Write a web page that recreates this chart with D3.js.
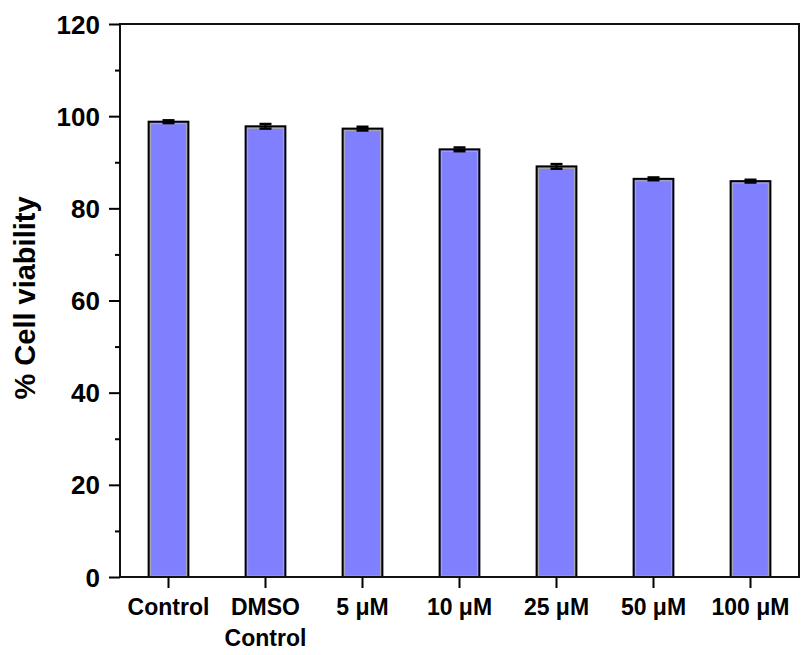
<!DOCTYPE html>
<head>
  <meta charset="utf-8">
  <script src="https://cdnjs.cloudflare.com/ajax/libs/d3/7.8.5/d3.min.js"></script>
  <style>
    body { margin:0; background:#fff; }
    text { font-family: "Liberation Sans", Arial, sans-serif; font-weight: bold; fill:#000; }
  </style>
</head>
<body>
  <div id="vis"></div>
  <script>
    // treatments and viability (%)
    var groups = ["Control", "DMSO Control", "5 \u03bcM", "10 \u03bcM", "25 \u03bcM", "50 \u03bcM", "100 \u03bcM"];
    var viability = [98.8, 97.8, 97.3, 92.8, 89.1, 86.4, 85.9];
    var errors = [0.3, 0.5, 0.4, 0.4, 0.5, 0.3, 0.3];
    var yTicks = [0, 20, 40, 60, 80, 100, 120];

    var width = 802, height = 655;
    var plotL = 120, plotR = 799, plotT = 24, plotB = 577;

    var svg = d3.select("#vis").append("svg")
      .attr("width", width)
      .attr("height", height);

    var x = d3.scaleBand()
      .domain(groups)
      .range([plotL, plotR])
      .paddingInner(0.59)
      .paddingOuter(0.295);

    var y = d3.scaleLinear()
      .domain([0, 120])
      .range([plotB, plotT]);

    // bars
    var bars = svg.append("g");
    groups.forEach(function(g, i) {
      bars.append("rect")
        .attr("x", x(g))
        .attr("y", y(viability[i]))
        .attr("width", x.bandwidth())
        .attr("height", y(0) - y(viability[i]))
        .style("fill", "#8080ff")
        .style("stroke", "#000")
        .style("stroke-width", 2);
      bars.append("rect")
        .attr("x", x(g) + 2)
        .attr("y", y(viability[i]) + 2)
        .attr("width", x.bandwidth() - 4)
        .attr("height", y(0) - y(viability[i]) - 3)
        .style("fill", "none")
        .style("stroke", "#aaa")
        .style("stroke-width", 1);
    });

    // error bars
    var eb = svg.append("g").style("stroke", "#000");
    groups.forEach(function(g, i) {
      var cx = x(g) + x.bandwidth() / 2;
      var hi = y(viability[i] + errors[i]), lo = y(viability[i] - errors[i]);
      eb.append("line").attr("x1", cx).attr("x2", cx).attr("y1", hi).attr("y2", lo).style("stroke-width", 2);
      eb.append("line").attr("x1", cx - 6).attr("x2", cx + 6).attr("y1", hi).attr("y2", hi).style("stroke-width", 2.5);
      eb.append("line").attr("x1", cx - 6).attr("x2", cx + 6).attr("y1", lo).attr("y2", lo).style("stroke-width", 2.5);
    });

    // frame
    svg.append("rect")
      .attr("x", plotL).attr("y", plotT)
      .attr("width", plotR - plotL).attr("height", plotB - plotT)
      .style("fill", "none").style("stroke", "#111").style("stroke-width", 2);

    // y axis
    var yAxis = svg.append("g")
      .attr("transform", "translate(" + plotL + ",0)")
      .call(d3.axisLeft(y).tickValues(yTicks).tickSize(11).tickPadding(9));
    yAxis.select(".domain").remove();
    yAxis.selectAll("line").style("stroke", "#000").style("stroke-width", 2);
    yAxis.selectAll("text").style("font-size", "26px").attr("dy", "0.35em");

    var yMinor = svg.append("g")
      .attr("transform", "translate(" + plotL + ",0)")
      .call(d3.axisLeft(y).tickValues(d3.range(10, 120, 20)).tickSize(5).tickFormat(""));
    yMinor.select(".domain").remove();
    yMinor.selectAll("line").style("stroke", "#000").style("stroke-width", 2);

    // x axis
    var xAxis = svg.append("g")
      .attr("transform", "translate(0," + plotB + ")")
      .call(d3.axisBottom(x).tickSize(11).tickFormat(""));
    xAxis.select(".domain").remove();
    xAxis.selectAll("line").style("stroke", "#000").style("stroke-width", 2);

    groups.forEach(function(g) {
      var words = g.indexOf("DMSO") == 0 ? ["DMSO", "Control"] : [g];
      var t = svg.append("text")
        .attr("x", x(g) + x.bandwidth() / 2)
        .attr("y", 615)
        .attr("text-anchor", "middle")
        .style("font-size", "23px");
      words.forEach(function(w, k) {
        t.append("tspan").attr("x", x(g) + x.bandwidth() / 2).attr("dy", k ? 31 : 0).text(w);
      });
    });

    // y label
    svg.append("text")
      .attr("transform", "translate(35,298) rotate(-90)")
      .attr("text-anchor", "middle")
      .style("font-size", "29px")
      .text("% Cell viability");
  </script>
</body>
